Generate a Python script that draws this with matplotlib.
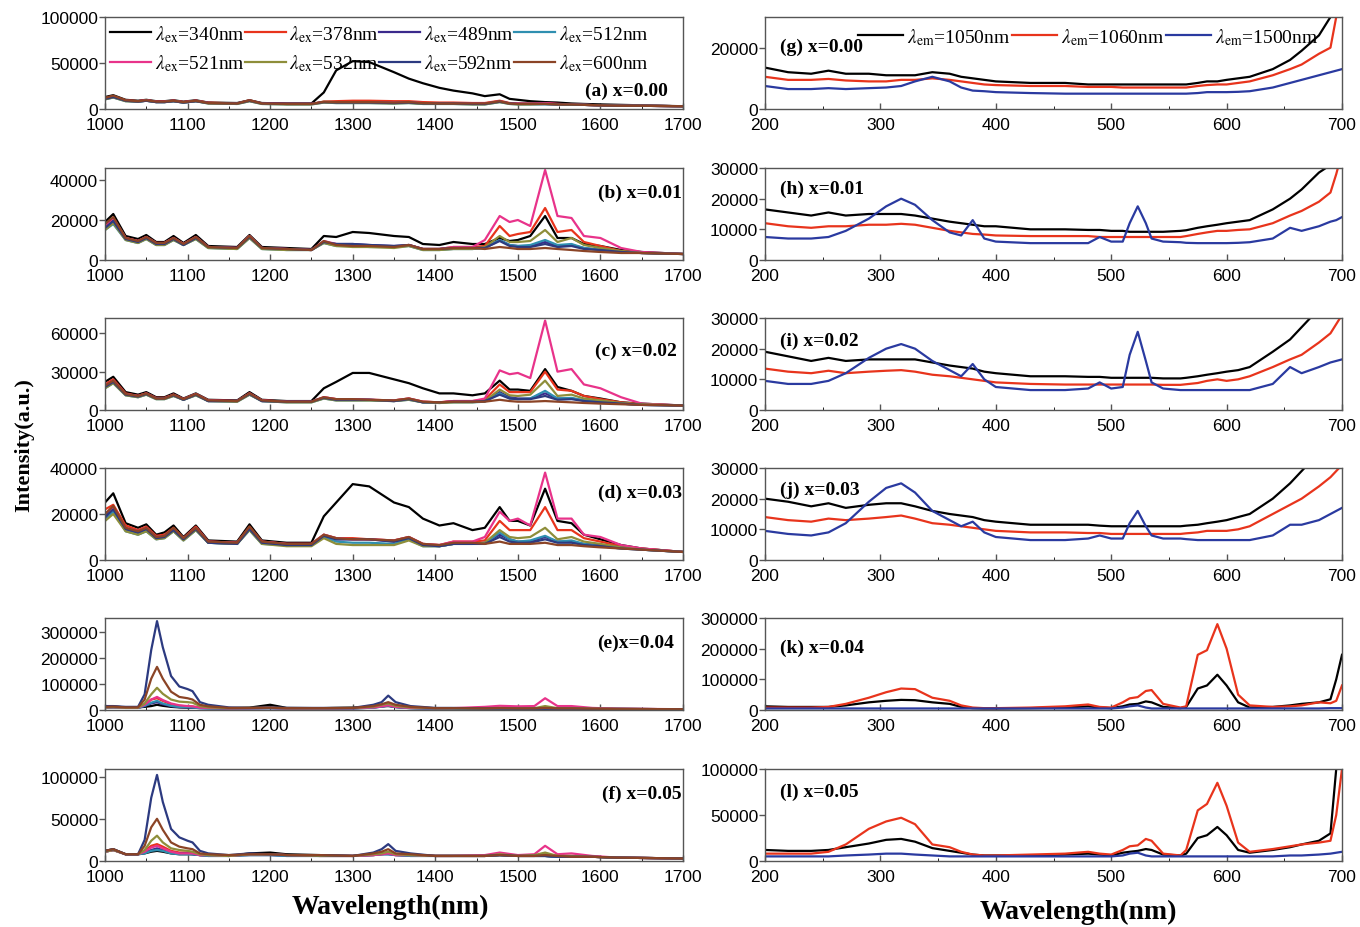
import numpy as np
import matplotlib
matplotlib.use('Agg')
import matplotlib.pyplot as plt
from matplotlib.ticker import MultipleLocator

plt.rcParams['font.family'] = ['Liberation Sans', 'DejaVu Sans']
plt.rcParams['mathtext.fontset'] = 'stix'

# ---- emission spectra (left column), intensity in units of 1000 ----
ex_waves = [340, 378, 489, 512, 521, 532, 592, 600]
ex_colors = ['#000000', '#e8341c', '#3b2a8c', '#2f8fb0',
             '#e8338a', '#8e8e3a', '#2c3a80', '#8b4426']

wl_ad = [1000, 1010, 1025, 1040, 1050, 1062, 1072, 1083, 1095, 1110,
         1125, 1160, 1175, 1190, 1220, 1250, 1265, 1280, 1300, 1320,
         1350, 1368, 1385, 1405, 1422, 1445, 1460, 1478, 1490, 1500,
         1515, 1533, 1548, 1565, 1580, 1600, 1625, 1650, 1700]

spec_a = [
    [13, 15, 10, 9, 10, 8.5, 8.5, 9.5, 8, 9.5,
     7, 6.5, 9.5, 6.5, 6, 6, 18, 42, 52, 51,
     40, 33, 28, 23, 20, 17, 14, 16, 11, 10,
     8.5, 7.5, 7, 6, 5.5, 5, 4.5, 4, 3],
    [12, 14, 9.5, 8.5, 9.5, 8, 8, 9, 7.5, 9,
     7, 6, 9.5, 6, 5.5, 5.5, 8, 8.5, 9, 9,
     8.5, 8.5, 7.5, 7, 7, 6.5, 6.5, 9, 6.5, 6,
     6, 6, 5.5, 5, 4.5, 4, 3.5, 3.5, 3],
    [11, 13, 9, 8, 9, 7.5, 7.5, 8.5, 7, 8.5,
     6.5, 6, 9, 6, 5.5, 5.5, 7.5, 7, 7, 7,
     6.5, 7, 6, 6, 6, 5.5, 5.5, 8, 6, 5.5,
     5.5, 5.5, 5, 5, 4.5, 4, 3.5, 3.5, 3],
    [10.5, 12.5, 8.5, 8, 9, 7.5, 7.5, 8.5, 7, 8.5,
     6, 5.5, 8.5, 5.5, 5, 5, 7, 6.5, 6.5, 6.5,
     6, 6.5, 5.5, 5.5, 5.5, 5, 5, 7.5, 5.5, 5,
     5, 5, 5, 4.5, 4.5, 4, 3.5, 3.5, 3],
    [11.5, 13.5, 9, 8.5, 9.5, 8, 8, 9, 7.5, 9,
     6.5, 6, 9, 6, 5.5, 5.5, 7.5, 7.5, 7.5, 7.5,
     7, 7.5, 6.5, 6, 6, 6, 6, 8.5, 6, 6,
     5.5, 6.5, 5.5, 5, 4.5, 4, 3.5, 3.5, 3],
    [10.5, 12.5, 8.5, 8, 9, 7.5, 7.5, 8.5, 7, 8.5,
     6, 5.5, 8.5, 5.5, 5, 5, 7, 6.5, 6.5, 6.5,
     6, 6.5, 5.5, 5.5, 5.5, 5, 5, 7.5, 5.5, 5,
     5, 5.5, 5, 4.5, 4.5, 4, 3.5, 3.5, 3],
    [11, 13, 9, 8, 9, 7.5, 7.5, 8.5, 7, 8.5,
     6.5, 6, 9, 6, 5.5, 5.5, 7.5, 7, 7, 7,
     6.5, 7, 6, 6, 6, 5.5, 5.5, 8, 6, 5.5,
     5.5, 5.5, 5, 5, 4.5, 4, 3.5, 3.5, 3],
    [12, 14.5, 9.5, 8.5, 9.5, 8, 8, 9, 7.5, 9,
     6.5, 6, 9.5, 6, 5.5, 5.5, 8, 7.5, 7.5, 7.5,
     7, 7.5, 6.5, 6, 6, 6, 6, 8.5, 6, 5.5,
     5.5, 5.5, 5, 5, 4.5, 4, 3.5, 3.5, 3],
]

spec_b = [
    [19, 23, 12, 10.5, 12.5, 9, 9, 12, 8.5, 12.5,
     7, 6.5, 12.5, 6.5, 6, 5.5, 12, 11.5, 14, 13.5,
     12, 11.5, 8, 7.5, 9, 8, 8, 11, 9.5, 10,
     12, 22, 11, 11, 8, 7, 5, 4, 3],
    [17, 21, 11, 9.5, 11.5, 8.5, 8.5, 11, 8, 11.5,
     6.5, 6, 12, 6, 5.5, 5, 9, 7.5, 7, 7,
     6.5, 7.5, 5.5, 5.5, 6.5, 6.5, 7, 17, 12, 13,
     14, 26, 14, 15, 9, 7, 4.5, 3.5, 3],
    [16, 20, 10.5, 9, 11, 8, 8, 10.5, 7.5, 11,
     6.5, 6, 11.5, 6, 5.5, 5, 9, 8, 8, 7.5,
     7, 7.5, 5.5, 5.5, 6, 6, 6, 10, 7.5, 7,
     7, 9, 7, 7.5, 6, 5, 4, 3.5, 3],
    [15, 18, 10, 8.5, 10.5, 7.5, 7.5, 10, 7.5, 10.5,
     6, 5.5, 11, 5.5, 5, 5, 8.5, 7, 7, 6.5,
     6.5, 7, 5, 5, 5.5, 5.5, 6, 10, 7.5, 7,
     7.5, 10, 7.5, 8, 6, 5, 4, 3.5, 3],
    [17, 21, 11, 9.5, 11.5, 8.5, 8.5, 11, 8, 11.5,
     6.5, 6, 12, 6, 5.5, 5, 9.5, 8, 7.5, 7,
     6.5, 7.5, 5.5, 5.5, 6.5, 6.5, 10, 22, 19, 20,
     17, 45, 22, 21, 12, 11, 6, 4, 3],
    [15, 18.5, 10, 8.5, 10.5, 7.5, 7.5, 10, 7.5, 10.5,
     6, 5.5, 11, 5.5, 5, 5, 8.5, 7, 6.5, 6.5,
     6, 7, 5, 5, 5.5, 5.5, 6.5, 12, 9, 9,
     9.5, 15, 9, 11, 7.5, 6, 4.5, 3.5, 3],
    [16, 19.5, 10.5, 9, 11, 8, 8, 10.5, 7.5, 11,
     6.5, 6, 11.5, 6, 5.5, 5, 9, 8, 8, 7.5,
     7, 7.5, 5.5, 5.5, 6, 6, 6, 9.5, 7, 6.5,
     6.5, 8, 6.5, 7, 5.5, 5, 4, 3.5, 3],
    [18, 21.5, 11, 9.5, 11.5, 8.5, 8.5, 11, 8, 11.5,
     6.5, 6, 12, 6, 5.5, 5, 9.5, 7.5, 7, 7,
     6.5, 7.5, 5.5, 5.5, 6, 6, 5.5, 6.5, 6, 5.5,
     5.5, 6, 5.5, 5, 4.5, 4, 3.5, 3.5, 3],
]

spec_c = [
    [22, 26, 14, 12, 14, 10, 10, 13, 9, 13,
     8, 7.5, 14, 8, 7, 7, 17, 22, 29, 29,
     24, 21, 17, 13, 13, 11.5, 13, 23, 16, 16,
     15, 32, 18, 15, 11, 9, 6, 5, 3.5],
    [20, 24, 13, 11, 13, 9.5, 9.5, 12, 8.5, 12.5,
     7.5, 7, 13, 7.5, 6.5, 6.5, 10, 8.5, 8.5, 8,
     7.5, 9, 6.5, 6, 7, 7, 8, 20, 14, 14,
     14, 30, 16, 15, 11, 8.5, 6, 4.5, 3.5],
    [18, 22, 12, 10.5, 12.5, 9, 9, 11.5, 8, 12,
     7, 7, 12.5, 7, 6.5, 6.5, 9.5, 8, 8, 8,
     7, 8.5, 6, 6, 6.5, 6.5, 7, 14, 10, 9,
     9, 13, 9, 9, 7.5, 6.5, 5, 4, 3.5],
    [17, 21, 11.5, 10, 12, 8.5, 8.5, 11, 8, 11.5,
     7, 6.5, 12, 7, 6, 6, 9, 7.5, 7.5, 7.5,
     7, 8, 6, 5.5, 6, 6, 6.5, 13, 9, 8.5,
     9, 15, 9, 9.5, 7.5, 6.5, 5, 4, 3.5],
    [19, 23, 12.5, 11, 13, 9, 9, 12, 8.5, 12.5,
     7.5, 7, 13, 7.5, 6.5, 6.5, 10, 8.5, 8.5, 8,
     7.5, 9, 6.5, 6, 7, 7, 9, 31, 28, 29,
     25, 70, 30, 32, 20, 17, 10, 5, 3.5],
    [17, 21, 11.5, 10, 12, 8.5, 8.5, 11, 8, 11.5,
     7, 6.5, 12, 7, 6, 6, 9, 7.5, 7.5, 7.5,
     7, 8, 6, 5.5, 6, 6, 7, 16, 11.5, 11,
     12, 23, 11, 12, 9, 7.5, 5.5, 4.5, 3.5],
    [18, 22, 12, 10.5, 12.5, 9, 9, 11.5, 8, 12,
     7, 7, 12.5, 7, 6.5, 6.5, 9.5, 8, 8, 8,
     7, 8.5, 6, 6, 6.5, 6.5, 7, 12, 9, 8.5,
     8.5, 11, 8, 8.5, 7, 6, 5, 4, 3.5],
    [19, 23, 12.5, 11, 13, 9, 9, 12, 8.5, 12.5,
     7.5, 7, 13, 7.5, 6.5, 6.5, 10, 8.5, 8.5, 8,
     7.5, 9, 6.5, 6, 6.5, 6.5, 6.5, 8, 7, 6.5,
     6.5, 7, 6.5, 6, 5.5, 5, 4.5, 4, 3.5],
]

spec_d = [
    [25, 29, 16, 14, 15.5, 11, 12, 15, 10, 15,
     8.5, 8, 15.5, 8.5, 7.5, 7.5, 19, 25, 33, 32,
     25, 23, 18, 15, 16, 13, 14, 23, 17, 17,
     15, 31, 17, 16, 11, 9, 6.5, 5, 3.5],
    [22, 24, 15, 13, 14.5, 10.5, 11, 14, 9.5, 14.5,
     8, 7.5, 14.5, 8, 7, 7, 11, 9.5, 9.5, 9,
     8.5, 10, 7, 6.5, 8, 8, 8.5, 17, 13, 13,
     13, 23, 13, 13, 9.5, 8, 6, 5, 3.5],
    [18, 22, 13, 11.5, 13, 9.5, 10, 13, 9, 13.5,
     7.5, 7, 13.5, 7.5, 6.5, 6.5, 10.5, 9, 9, 9,
     8, 9.5, 6.5, 6, 7, 7, 7.5, 11, 9, 8,
     8, 10, 8, 8, 7, 6.5, 5.5, 4.5, 3.5],
    [17, 21, 12.5, 11, 12.5, 9, 9.5, 12.5, 8.5, 13,
     7.5, 7, 13, 7, 6.5, 6.5, 10, 8, 7.5, 7.5,
     7, 9, 6, 6, 7, 7, 7, 12, 9, 8,
     8.5, 10.5, 8, 8.5, 7, 6, 5, 4.5, 3.5],
    [20, 23, 14, 12.5, 14, 10, 10.5, 13.5, 9.5, 14,
     8, 7.5, 14, 8, 7, 7, 11, 9.5, 9, 9,
     8.5, 10, 7, 6.5, 8, 8, 10, 21, 17, 18,
     15, 38, 18, 18, 11, 10, 6.5, 5, 3.5],
    [17, 20, 12.5, 11, 12.5, 9, 9.5, 12.5, 8.5, 13,
     7.5, 7, 13, 7, 6, 6, 9.5, 7, 6.5, 6.5,
     6.5, 8.5, 6, 6, 7, 7, 7.5, 13, 10, 9.5,
     10, 14, 9, 10, 8, 7, 5.5, 4.5, 3.5],
    [19, 22, 13.5, 12, 13.5, 9.5, 10, 13, 9, 13.5,
     7.5, 7, 13.5, 7.5, 6.5, 6.5, 10.5, 9, 9, 9,
     8, 9.5, 6.5, 6, 7, 7, 7, 10, 8, 7.5,
     7.5, 9, 7.5, 7.5, 6.5, 6, 5, 4.5, 3.5],
    [20, 23.5, 14, 12.5, 14, 10, 10.5, 14, 9.5, 14,
     8, 7.5, 14.5, 8, 7, 7, 11, 9.5, 9, 9,
     8.5, 10, 7, 6.5, 7.5, 7.5, 7, 8, 7, 7,
     7, 7.5, 6.5, 6.5, 6, 5.5, 5, 4.5, 3.5],
]

wl_ef = [1000, 1010, 1025, 1040, 1048, 1056, 1063, 1070, 1080, 1090,
         1100, 1106, 1115, 1125, 1150, 1175, 1200, 1220, 1260, 1300,
         1325, 1335, 1343, 1352, 1370, 1400, 1420, 1460, 1478, 1500,
         1520, 1533, 1548, 1565, 1590, 1620, 1700]

spec_e = [
    [12, 13, 10, 10, 12, 15, 20, 16, 12, 10,
     9, 9, 8, 8, 7, 9, 20, 8, 7, 9,
     12, 14, 15, 12, 8, 7, 7, 6, 6, 5,
     5, 5, 5, 5, 4, 4, 3],
    [10, 11, 9, 9, 20, 40, 45, 35, 22, 16,
     14, 13, 9, 8, 6, 7, 8, 6, 6, 7,
     10, 14, 18, 12, 8, 6, 6, 6, 7, 6,
     6, 8, 6, 6, 5, 4, 3],
    [9, 10, 8, 8, 15, 25, 30, 22, 15, 11,
     10, 9, 7, 6, 5, 6, 7, 5, 5, 6,
     9, 13, 17, 11, 7, 5, 5, 5, 6, 5,
     5, 6, 5, 5, 4, 4, 3],
    [9, 10, 8, 8, 16, 28, 35, 25, 16, 12,
     11, 10, 7, 6, 5, 6, 7, 5, 5, 6,
     9, 13, 17, 11, 7, 5, 5, 5, 6, 5,
     5, 7, 5, 5, 4, 4, 3],
    [10, 11, 9, 9, 20, 40, 50, 38, 25, 18,
     15, 14, 9, 8, 6, 7, 8, 6, 6, 7,
     10, 14, 18, 12, 8, 7, 7, 12, 16, 14,
     15, 45, 15, 15, 8, 5, 3],
    [10, 11, 9, 9, 25, 60, 85, 62, 40, 32,
     30, 28, 15, 10, 7, 8, 9, 7, 7, 8,
     13, 20, 25, 16, 10, 7, 7, 6, 8, 6,
     7, 15, 7, 7, 5, 4, 3],
    [15, 15, 12, 12, 60, 230, 340, 240, 130, 90,
     80, 72, 30, 20, 10, 8, 10, 8, 8, 8,
     20, 30, 55, 30, 15, 8, 8, 6, 6, 5,
     5, 5, 5, 5, 4, 4, 3],
    [12, 13, 10, 10, 40, 120, 165, 120, 70, 50,
     45, 40, 20, 14, 8, 8, 9, 7, 7, 8,
     15, 22, 30, 20, 12, 7, 7, 6, 7, 6,
     6, 8, 6, 6, 5, 4, 3],
]

spec_f = [
    [12, 14, 8, 8, 9, 11, 12, 11, 9, 8,
     8, 8, 7, 7, 6, 9, 10, 8, 7, 6,
     8, 9, 10, 8, 7, 6, 6, 6, 7, 6,
     6, 6, 5, 5, 5, 4, 3],
    [11, 13, 8, 8, 12, 18, 20, 17, 12, 10,
     10, 9, 7, 7, 6, 8, 8, 7, 6, 6,
     7, 8, 9, 7, 7, 6, 6, 6, 8, 6,
     6, 8, 6, 6, 5, 4, 3],
    [11, 13, 8, 8, 10, 13, 15, 13, 10, 9,
     9, 8, 7, 6, 6, 7, 7, 6, 6, 6,
     7, 8, 8, 7, 6, 6, 6, 6, 7, 6,
     6, 6, 5, 5, 5, 4, 3],
    [11, 13, 8, 8, 9, 12, 13, 12, 9, 8,
     8, 8, 7, 6, 6, 7, 7, 6, 6, 6,
     7, 8, 8, 7, 6, 6, 6, 6, 7, 6,
     6, 6, 5, 5, 5, 4, 3],
    [11, 13, 8, 8, 11, 16, 18, 15, 11, 9,
     9, 9, 7, 7, 6, 8, 8, 7, 6, 6,
     7, 8, 9, 7, 7, 6, 6, 7, 10, 7,
     8, 18, 8, 9, 6, 4, 3],
    [11, 13, 8, 8, 13, 24, 30, 22, 15, 13,
     12, 11, 8, 7, 6, 8, 8, 7, 6, 6,
     8, 9, 11, 8, 7, 6, 6, 6, 8, 6,
     7, 10, 6, 6, 5, 4, 3],
    [12, 14, 8, 8, 25, 75, 102, 70, 38, 28,
     24, 22, 12, 9, 7, 9, 8, 7, 7, 6,
     10, 14, 20, 12, 9, 6, 6, 6, 7, 6,
     6, 6, 5, 5, 5, 4, 3],
    [12, 14, 8, 8, 18, 40, 50, 37, 22, 17,
     15, 14, 9, 8, 7, 8, 8, 7, 7, 6,
     9, 11, 14, 9, 8, 6, 6, 6, 7, 6,
     6, 7, 6, 5, 5, 4, 3],
]

# ---- excitation spectra (right column), intensity in units of 1000 ----
em_waves = [1050, 1060, 1500]
em_colors = ['#000000', '#e8341c', '#2a3aa0']

wl_exc = [200, 220, 240, 255, 270, 290, 305, 318, 330, 345,
          360, 370, 380, 390, 400, 430, 460, 480, 490, 500,
          510, 516, 523, 530, 535, 545, 560, 565, 575, 583,
          592, 600, 610, 620, 640, 655, 665, 680, 690, 695,
          700]

spec_g = [
    [13.5, 12, 11.5, 12.5, 11.5, 11.5, 11, 11, 11, 12,
     11.5, 10.5, 10, 9.5, 9, 8.5, 8.5, 8, 8, 8,
     8, 8, 8, 8, 8, 8, 8, 8, 8.5, 9,
     9, 9.5, 10, 10.5, 13, 16, 19, 24, 30, 35,
     40],
    [10.5, 9.5, 9.5, 9.8, 9.3, 9, 9, 9.5, 9.5, 10,
     9.5, 9, 8.5, 8, 7.8, 7.5, 7.5, 7.2, 7.2, 7.2,
     7, 7, 7, 7, 7, 7, 7, 7, 7.5, 7.8,
     8, 8, 8.5, 9, 11, 13, 14.5, 18, 20, 30,
     40],
    [7.5, 6.5, 6.5, 6.8, 6.5, 6.8, 7, 7.5, 9, 10.5,
     9, 7, 6, 5.8, 5.5, 5.2, 5, 5, 5, 5,
     5, 5, 5, 5, 5, 5, 5, 5, 5.2, 5.5,
     5.5, 5.5, 5.6, 5.8, 7, 8.5, 9.5, 11, 12, 12.5,
     13],
]

spec_h = [
    [16.5, 15.5, 14.5, 15.5, 14.5, 15, 15, 15, 14.5, 13.5,
     12.5, 12, 11.5, 11, 11, 10, 10, 9.8, 9.8, 9.5,
     9.5, 9.2, 9.2, 9.2, 9.2, 9.2, 9.5, 9.7, 10.5, 11,
     11.5, 12, 12.5, 13, 16.5, 20, 23, 28.5, 31, 33,
     35],
    [12, 11, 10.5, 11, 11, 11.5, 11.5, 11.8, 11.5, 10.5,
     9.5, 9, 8.5, 8.3, 8, 7.8, 7.8, 7.8, 7.5, 7.5,
     7.5, 7.5, 7.5, 7.5, 7.5, 7.5, 7.5, 7.8, 8.5, 9,
     9.5, 9.5, 9.8, 10, 12, 14.5, 16, 19, 22, 28,
     35],
    [7.5, 7, 7, 7.5, 9.5, 13.5, 17.5, 20, 18, 13,
     9, 8, 13, 7, 6, 5.5, 5.5, 5.5, 7.5, 6,
     6, 12, 17.5, 12, 7, 6, 5.8, 5.6, 5.5, 5.5,
     5.5, 5.5, 5.6, 5.8, 7, 10.5, 9.5, 11, 12.5, 13,
     14],
]

spec_i = [
    [19, 17.5, 16, 17, 16, 16.5, 16.5, 16.5, 16.5, 15.5,
     14.5, 14, 13.5, 12.5, 12, 11, 11, 10.8, 10.8, 10.5,
     10.5, 10.5, 10.5, 10.5, 10.5, 10.3, 10.3, 10.5, 11, 11.5,
     12, 12.5, 13, 14, 19, 23, 27, 33, 37, 40,
     42],
    [13.5, 12.5, 12, 12.8, 12, 12.5, 12.8, 13, 12.5, 11.5,
     11, 10.5, 10, 9.5, 9, 8.5, 8.3, 8.3, 8.3, 8.3,
     8.3, 8.3, 8.3, 8.3, 8.3, 8.2, 8.2, 8.4, 8.8, 9.5,
     10, 9.5, 10, 11, 14, 16.5, 18, 22, 25, 28,
     31],
    [9.5, 8.5, 8.5, 9.5, 12, 17, 20, 21.5, 20, 16,
     13, 11, 15, 10, 7.5, 6.5, 6.5, 7, 9, 7,
     7.5, 18, 25.5, 16, 9, 7, 6.5, 6.5, 6.5, 6.5,
     6.5, 6.5, 6.5, 6.5, 8.5, 14, 12, 14, 15.5, 16,
     16.5],
]

spec_j = [
    [20, 19, 17.5, 18.5, 17, 18, 18.5, 18.5, 17.5, 16,
     15, 14.5, 14, 13, 12.5, 11.5, 11.5, 11.5, 11.2, 11,
     11, 11, 11, 11, 11, 11, 11, 11.2, 11.5, 12,
     12.5, 13, 14, 15, 20, 25, 29, 35, 40, 43,
     45],
    [14, 13, 12.5, 13.5, 13, 13.5, 14, 14.5, 13.5, 12,
     11.5, 11, 10.5, 10, 9.5, 9, 9, 8.8, 8.8, 8.5,
     8.5, 8.5, 8.5, 8.5, 8.5, 8.5, 8.5, 8.7, 9, 9.5,
     9.5, 9.5, 10, 11, 15, 18, 20, 24, 27, 29,
     31],
    [9.5, 8.5, 8, 9, 12, 19, 23.5, 25, 22, 16,
     13, 11, 12.5, 9, 7.5, 6.5, 6.5, 7, 8, 7,
     7, 12, 16, 11, 8, 7, 7, 6.8, 6.5, 6.5,
     6.5, 6.5, 6.5, 6.5, 8, 11.5, 11.5, 13, 15, 16,
     17],
]

spec_k = [
    [12, 10, 10, 10, 15, 25, 30, 33, 32, 25,
     20, 10, 6, 5, 5, 6, 8, 12, 8, 6,
     12, 18, 20, 28, 25, 10, 6, 10, 70, 80,
     115, 80, 25, 8, 10, 15, 20, 25, 35, 100,
     180],
    [8, 8, 8, 10, 20, 40, 58, 70, 68, 40,
     30, 15, 8, 6, 6, 8, 12, 18, 10, 8,
     25, 38, 42, 62, 65, 20, 8, 12, 180, 195,
     280, 200, 50, 15, 10, 12, 15, 25, 22, 30,
     80],
    [5, 5, 5, 5, 5, 5, 5, 5, 5, 5,
     5, 5, 5, 5, 5, 5, 5, 5, 5, 5,
     8, 12, 15, 8, 5, 5, 5, 5, 5, 5,
     5, 5, 5, 5, 5, 5, 5, 5, 6, 6,
     6],
]

spec_l = [
    [12, 11, 11, 12, 15, 19, 23, 24, 21, 14,
     11, 9, 7, 6, 6, 6, 7, 8, 7, 6,
     9, 10, 11, 13, 12, 7, 6, 8, 25, 28,
     37, 28, 12, 9, 12, 15, 18, 22, 30, 100,
     120],
    [8, 8, 8, 10, 18, 35, 43, 47, 40, 18,
     15, 10, 7, 6, 6, 7, 8, 10, 8, 7,
     12, 16, 17, 24, 22, 8, 6, 12, 55, 62,
     85, 60, 20, 10, 13, 16, 18, 20, 22, 50,
     100],
    [5, 5, 5, 5, 6, 7, 8, 8, 7, 6,
     5, 5, 5, 5, 5, 5, 5, 5, 5, 5,
     6, 8, 9, 6, 5, 5, 5, 5, 5, 5,
     5, 5, 5, 5, 5, 6, 6, 7, 8, 9,
     10],
]

# ---- layout (pixel boxes of the original figure) ----
W, H = 1360, 928
tops = [18, 169, 319, 469, 619, 770]
box_h = 92
serif = 'Liberation Serif'

fig = plt.figure(figsize=(W / 100, H / 100), dpi=100)


def make_ax(left, width, top):
    ax = fig.add_axes([left / W, 1 - (top + box_h) / H, width / W, box_h / H])
    for s in ax.spines.values():
        s.set_color('#555555')
        s.set_linewidth(1.0)
    ax.tick_params(axis='both', labelsize=12.5, colors='#555555',
                   labelcolor='black', length=4, width=1)
    ax.tick_params(axis='x', which='minor', length=2.5, direction='in')
    ax.tick_params(axis='x', which='major', direction='in', pad=6)
    ax.tick_params(axis='y', pad=1)
    return ax


left_panels = [
    (spec_a, wl_ad, 100000, [0, 50000, 100000], '(a) x=0.00', 0.974, 0.20),
    (spec_b, wl_ad, 46000, [0, 20000, 40000], '(b) x=0.01', 0.998, 0.73),
    (spec_c, wl_ad, 72000, [0, 30000, 60000], '(c) x=0.02', 0.99, 0.65),
    (spec_d, wl_ad, 40000, [0, 20000, 40000], '(d) x=0.03', 0.998, 0.73),
    (spec_e, wl_ef, 352000, [0, 100000, 200000, 300000], '(e)x=0.04', 0.985, 0.74),
    (spec_f, wl_ef, 109000, [0, 50000, 100000], '(f) x=0.05', 0.998, 0.74),
]

for i, (spec, wl, ytop, yt, lab, lx, ly) in enumerate(left_panels):
    ax = make_ax(105, 578, tops[i])
    lines = []
    for k, ys in enumerate(spec):
        ln, = ax.plot(wl, np.array(ys) * 1000, color=ex_colors[k], lw=1.6,
                      label=r'$\lambda_{\rm ex}$=%dnm' % ex_waves[k])
        lines.append(ln)
    ax.set_xlim(1000, 1700)
    ax.set_ylim(0, ytop)
    ax.set_yticks(yt)
    ax.set_yticklabels([str(v) for v in yt])
    ax.xaxis.set_major_locator(MultipleLocator(100))
    ax.xaxis.set_minor_locator(MultipleLocator(50))
    ax.text(lx, ly, lab, transform=ax.transAxes, ha='right', va='center',
            fontsize=14, fontweight='bold', family=serif)
    if i == 0:
        # legend is filled column by column, so order for 2 rows x 4 columns
        order = [0, 4, 1, 5, 2, 6, 3, 7]
        ax.legend([lines[j] for j in order],
                  [lines[j].get_label() for j in order],
                  ncol=4, loc='upper left', bbox_to_anchor=(-0.008, 1.04),
                  frameon=False, prop={'family': serif, 'size': 14},
                  handlelength=2.1, handletextpad=0.2, columnspacing=0.0,
                  labelspacing=0.45, borderaxespad=0.1)

right_panels = [
    (spec_g, 30000, [0, 20000], '(g) x=0.00', 0.68),
    (spec_h, 30000, [0, 10000, 20000, 30000], '(h) x=0.01', 0.78),
    (spec_i, 30000, [0, 10000, 20000, 30000], '(i) x=0.02', 0.76),
    (spec_j, 30000, [0, 10000, 20000, 30000], '(j) x=0.03', 0.77),
    (spec_k, 300000, [0, 100000, 200000, 300000], '(k) x=0.04', 0.68),
    (spec_l, 100000, [0, 50000, 100000], '(l) x=0.05', 0.76),
]

for i, (spec, ytop, yt, lab, ly) in enumerate(right_panels):
    ax = make_ax(765, 577, tops[i])
    for k, ys in enumerate(spec):
        ax.plot(wl_exc, np.array(ys) * 1000, color=em_colors[k], lw=1.6,
                label=r'$\lambda_{\rm em}$=%dnm' % em_waves[k])
    ax.set_xlim(200, 700)
    ax.set_ylim(0, ytop)
    ax.set_yticks(yt)
    ax.set_yticklabels([str(v) for v in yt])
    ax.xaxis.set_major_locator(MultipleLocator(100))
    ax.xaxis.set_minor_locator(MultipleLocator(50))
    ax.text(0.026, ly, lab, transform=ax.transAxes, ha='left', va='center',
            fontsize=14, fontweight='bold', family=serif)
    if i == 0:
        ax.legend(ncol=3, loc='upper left', bbox_to_anchor=(0.145, 1.01),
                  frameon=False, prop={'family': serif, 'size': 14},
                  handlelength=2.3, handletextpad=0.2, columnspacing=0.1,
                  borderaxespad=0.1)

fig.text(0.018, 0.52, 'Intensity(a.u.)', rotation=90, ha='center', va='center',
         fontsize=16, fontweight='bold', family=serif)
fig.text(390 / W, 1 - 907 / H, 'Wavelength(nm)', ha='center', va='center',
         fontsize=20, fontweight='bold', family=serif)
fig.text(1078 / W, 1 - 912 / H, 'Wavelength(nm)', ha='center', va='center',
         fontsize=20, fontweight='bold', family=serif)

fig.savefig('out.png', dpi=100)
